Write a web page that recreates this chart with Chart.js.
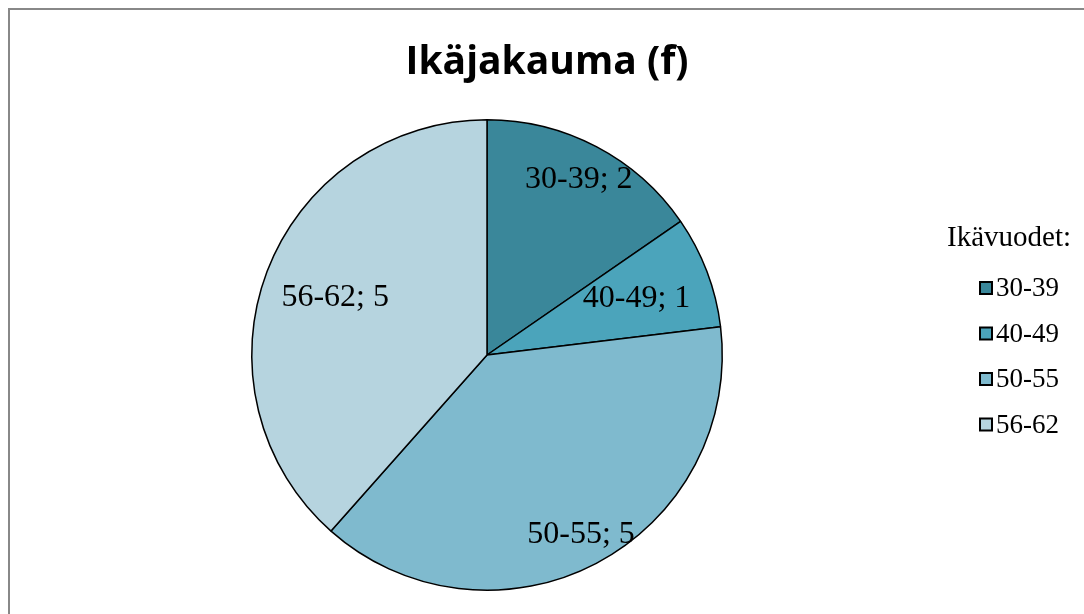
<!DOCTYPE html>
<html>
<head>
<meta charset="utf-8">
<script src="https://cdn.jsdelivr.net/npm/chart.js@4.4.1/dist/chart.umd.min.js"></script>
<style>
  html, body { margin: 0; padding: 0; background: #fff; }
  #wrap { position: relative; width: 1084px; height: 614px; }
</style>
</head>
<body>
<div id="wrap"><canvas id="ikaPie" width="1084" height="614"></canvas></div>
<script>
// Tiedot
const otsikko = 'Ikäjakauma (f)';
const legendOtsikko = 'Ikävuodet:';
const ikaryhmat = ['30-39', '40-49', '50-55', '56-62'];
const maarat = [2, 1, 5, 5];
const varit = ['#3A879A', '#4BA4BB', '#7FBACE', '#B6D4DF'];

(function() {
    const serif = "'Liberation Serif', 'Times New Roman', serif";

    // kehys, otsikko, selite ja arvotekstit
    const koriste = {
        id: 'koriste',
        beforeDraw(chart) {
            const c = chart.ctx;
            c.save();
            c.strokeStyle = '#888';
            c.lineWidth = 2;
            c.beginPath();
            c.moveTo(9, 700);
            c.lineTo(9, 9);
            c.lineTo(1200, 9);
            c.stroke();
            c.restore();
        },
        afterDraw(chart) {
            const c = chart.ctx;
            const o = chart.options.plugins.koriste;
            c.save();
            // otsikko
            c.fillStyle = '#000';
            c.font = "bold 39px 'Open Sans', sans-serif";
            c.textAlign = 'center';
            c.textBaseline = 'alphabetic';
            c.fillText(otsikko, 547, 74);

            // arvotekstit viipaleisiin
            c.textBaseline = 'middle';
            const meta = chart.getDatasetMeta(0);
            c.font = '32px ' + serif;
            meta.data.forEach((arc, i) => {
                const p = arc.getProps(['x', 'y', 'startAngle', 'endAngle', 'outerRadius'], true);
                const a = (p.startAngle + p.endAngle) / 2;
                const r = p.outerRadius * o.sade[i];
                c.fillText(ikaryhmat[i] + '; ' + maarat[i], p.x + Math.cos(a) * r, p.y + Math.sin(a) * r);
            });

            // selite
            c.textAlign = 'left';
            c.font = '29px ' + serif;
            c.fillText(legendOtsikko, 947, 238);
            c.font = '27px ' + serif;
            ikaryhmat.forEach((nimi, i) => {
                const y = 288 + i * 45.5;
                c.fillStyle = varit[i];
                c.fillRect(980, y - 6, 12, 12);
                c.strokeStyle = '#000';
                c.lineWidth = 2;
                c.strokeRect(980, y - 6, 12, 12);
                c.fillStyle = '#000';
                c.fillText(nimi, 996, y + 1);
            });
            c.restore();
        }
    };

    new Chart(document.getElementById('ikaPie'), {
        type: 'pie',
        data: {
            labels: ikaryhmat,
            datasets: [{
                data: maarat,
                backgroundColor: varit,
                borderColor: '#000',
                borderWidth: 1.5
            }]
        },
        options: {
            responsive: false,
            animation: false,
            layout: { padding: { left: 251, right: 361, top: 119, bottom: 23 } },
            plugins: {
                legend: { display: false },
                tooltip: { enabled: false },
                koriste: { sade: [0.84, 0.68, 0.86, 0.69] }
            }
        },
        plugins: [koriste]
    });
})();
</script>
</body>
</html>
